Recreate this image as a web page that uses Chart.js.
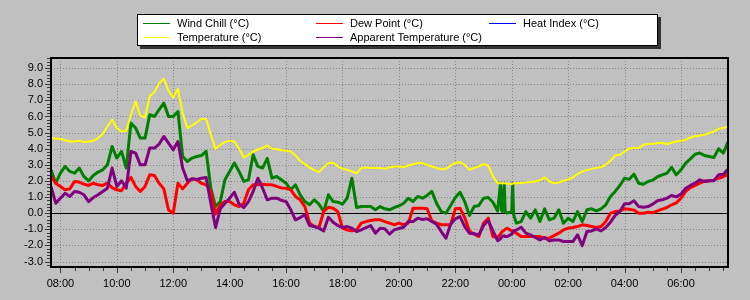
<!DOCTYPE html>
<html><head><meta charset="utf-8">
<script src="https://cdn.jsdelivr.net/npm/chart.js@4.4.1/dist/chart.umd.min.js"></script>
<style>
html,body{margin:0;padding:0;background:#c0c0c0;}
#wrap{position:relative;width:750px;height:300px;background:#c0c0c0;overflow:hidden;}
#legend{position:absolute;left:137px;top:14px;width:519px;height:30px;background:#fff;border:1px solid #000;box-shadow:3px 3px 0 0 #333;font-family:"Liberation Sans",Arial,sans-serif;font-size:11px;color:#000;}
.li{position:absolute;height:14px;white-space:nowrap;}
.li .sw{position:absolute;left:0;top:7px;width:27px;height:1px;}
.li .tx{position:absolute;left:34px;top:0;line-height:14px;}
</style></head><body>
<div id="wrap"><canvas id="c" width="750" height="300"></canvas><div id="legend"></div></div>
<script>
// time of each reading, minutes after 07:40
const minutesAfter0740 = [
0,10,20,30,40,50,60,70,80,90,
100,110,120,130,140,150,160,170,180,190,
200,210,220,230,240,250,260,270,280,290,
300,310,320,330,340,350,360,370,380,390,
400,410,420,430,440,450,460,470,480,490,
500,510,520,530,540,550,560,570,580,590,
600,610,620,630,640,650,660,670,680,690,
700,710,720,730,740,750,760,770,780,790,
800,810,820,830,840,850,860,870,880,890,
900,910,920,930,940,950,956,958,960,964,966,970,
980,982,984,990,
1000,1010,1020,1030,1040,1050,1060,1070,1080,1090,
1100,1110,1120,1130,1140,1150,1160,1170,1180,1190,
1200,1210,1220,1230,1240,1250,1260,1270,1280,1290,
1300,1310,1320,1330,1340,1350,1360,1370,1380,1390,
1400,1410,1420,1430,1440];

const windChill = [
2.69,1.86,2.48,2.90,2.59,2.48,2.80,2.28,2.01,2.34,
2.55,2.69,3.00,4.14,3.42,3.83,2.80,5.59,5.28,4.66,
4.66,6.11,6.00,6.42,6.83,6.00,6.00,6.30,3.52,3.21,
3.42,3.52,3.58,3.83,1.55,0.41,0.72,2.07,2.59,3.11,
2.59,1.97,2.07,3.62,2.90,2.80,3.40,2.17,2.28,2.07,
1.86,1.45,1.76,1.14,0.72,0.52,0.83,0.56,0.10,1.14,
0.72,0.68,0.56,0.93,2.17,0.35,0.41,0.41,0.41,0.21,
0.41,0.27,0.21,0.35,0.45,0.62,0.93,0.72,1.04,0.93,
1.10,1.35,0.62,0.10,0.00,0.48,0.97,1.30,0.72,-0.14,
0.41,0.48,0.93,0.97,0.68,0.14,1.84,0.20,0.10,1.84,0.10,0.00,
0.10,1.84,-0.10,-0.62,
-0.52,0.10,-0.31,0.21,-0.52,0.27,-0.41,-0.31,0.21,-0.62,
-0.31,-0.52,0.10,-0.52,0.21,0.27,0.14,0.27,0.52,1.04,
1.35,1.72,2.17,2.10,2.42,1.86,1.80,1.97,2.05,2.26,
2.38,2.48,2.84,2.38,2.69,3.11,3.37,3.66,3.73,3.58,
3.52,3.46,4.00,3.73,4.41];

const dewPoint = [
2.28,1.86,1.66,1.45,1.51,1.97,1.93,1.80,1.72,1.86,
1.76,1.72,1.86,1.59,1.45,1.39,1.86,2.22,1.66,1.35,
1.66,2.38,2.34,1.86,1.51,0.20,0.00,1.86,1.51,1.86,
2.13,2.07,1.86,1.76,1.35,-0.06,0.52,0.72,0.72,0.52,
0.41,0.62,1.45,1.76,1.76,1.80,1.76,1.76,1.66,1.57,
1.55,1.45,1.04,0.83,0.41,-0.62,-0.83,-0.89,0.10,0.37,
0.31,0.10,-0.93,-1.04,-1.10,-1.04,-0.62,-0.52,-0.46,-0.41,
-0.41,-0.52,-0.62,-0.72,-0.62,-0.72,-0.62,0.31,0.31,0.31,
0.27,-0.48,-0.62,-0.72,-0.72,-0.72,0.27,0.31,-0.27,-1.10,
-1.30,-1.45,-0.62,-0.31,-1.45,-1.51,-1.30,-1.20,-1.14,-1.05,-1.00,-0.93,
-1.10,-1.10,-1.15,-1.24,
-1.45,-1.45,-1.45,-1.45,-1.45,-1.55,-1.55,-1.39,-1.24,-1.04,
-0.93,-0.89,-0.83,-0.72,-0.77,-0.83,-0.89,-0.83,-0.52,0.00,
0.10,0.14,0.27,0.24,0.19,0.00,0.00,0.06,0.02,0.14,
0.25,0.35,0.52,0.64,0.93,1.35,1.59,1.72,1.86,1.99,
1.99,2.05,2.17,2.26,2.42];

const heatIndex = [];

const temperature = [
4.66,4.62,4.62,4.53,4.45,4.45,4.49,4.41,4.45,4.49,
4.66,4.91,5.38,5.80,5.28,5.07,5.11,6.11,6.94,6.05,
5.94,7.25,7.52,8.07,8.34,7.60,7.18,7.72,6.21,5.28,
5.45,5.63,5.86,5.84,4.87,3.98,4.24,4.41,4.49,4.45,
4.00,3.46,3.62,3.83,3.95,4.04,4.20,4.00,3.98,3.90,
3.87,3.83,3.58,3.25,3.04,2.84,2.67,2.55,2.84,3.11,
3.13,2.92,2.75,2.69,2.59,2.48,2.80,2.84,2.80,2.80,
2.80,2.75,2.84,2.90,2.89,2.86,2.96,3.04,3.11,3.11,
3.00,2.90,2.80,2.73,2.75,2.96,3.11,3.17,3.00,2.69,
2.80,2.90,3.04,2.96,2.28,1.86,1.86,1.86,1.86,1.86,1.85,1.84,
1.80,1.84,1.85,1.86,
1.88,1.90,1.93,1.97,2.05,2.22,1.97,1.86,1.90,2.01,
2.09,2.22,2.42,2.59,2.67,2.75,2.80,2.86,3.00,3.25,
3.58,3.62,3.83,4.01,4.04,4.04,4.24,4.29,4.29,4.35,
4.35,4.29,4.37,4.45,4.49,4.55,4.70,4.78,4.82,4.87,
4.97,5.07,5.24,5.28,5.38];

const apparentTemperature = [
1.66,0.62,0.93,1.24,1.04,1.35,1.30,1.14,0.72,0.97,
1.14,1.35,1.55,2.80,1.66,2.01,1.55,3.83,3.73,3.00,
3.00,4.04,4.04,4.29,4.76,4.35,3.93,4.45,2.80,2.01,
2.13,2.09,2.17,2.22,0.62,-0.89,0.27,0.62,0.93,1.30,
0.56,0.35,0.72,1.35,2.17,1.55,0.83,0.93,0.93,0.80,
0.72,0.21,-0.41,-0.27,-0.10,-0.77,-0.83,-0.93,-1.10,-0.25,
-0.56,-0.77,-0.89,-0.83,-0.93,-1.14,-1.04,-0.89,-0.77,-1.24,
-0.93,-0.97,-1.30,-1.04,-0.95,-0.87,-0.52,-0.52,-0.31,-0.39,
-0.35,-0.52,-0.68,-1.14,-1.55,-0.68,-0.35,-0.21,-0.83,-1.24,
-1.28,-1.35,-0.77,-0.46,-1.10,-1.70,-1.60,-1.50,-1.45,-1.40,-1.45,-1.45,
-1.30,-1.20,-1.10,-1.04,
-0.87,-1.24,-1.35,-1.51,-1.66,-1.51,-1.72,-1.66,-1.66,-1.76,
-1.76,-1.76,-1.35,-2.01,-1.14,-1.10,-0.97,-1.10,-0.89,-0.56,
-0.14,0.10,0.58,0.59,0.77,0.41,0.37,0.41,0.56,0.77,
0.83,0.93,1.10,1.01,1.18,1.55,1.72,1.86,2.07,1.97,
2.01,2.01,2.38,2.42,2.73];

const xTickLabels = ['08:00','10:00','12:00','14:00','16:00','18:00','20:00','22:00','00:00','02:00','04:00','06:00'];
const yTickValues = [-3,-2,-1,0,1,2,3,4,5,6,7,8,9];

const FONT = '"Liberation Sans", Arial, sans-serif';

function minutesFromLabel(s){
  const p = s.split(':').map(Number);
  return ((p[0]*60 + p[1]) - (7*60 + 40) + 1440) % 1440;
}

const series = [
  {label:'Wind Chill (°C)', color:'#008000', values:windChill, width:3, order:4},
  {label:'Dew Point (°C)', color:'#ff0000', values:dewPoint, width:3, order:3},
  {label:'Heat Index (°C)', color:'#0000ff', values:heatIndex, width:3, order:2},
  {label:'Temperature (°C)', color:'#ffff00', values:temperature, width:2, order:1},
  {label:'Apparent Temperature (°C)', color:'#800080', values:apparentTemperature, width:3, order:0}
];

const framePlugin = {
  id:'frame',
  beforeDatasetsDraw(chart){
    const {ctx, chartArea:a, scales:{x, y}} = chart;
    ctx.save();
    ctx.lineWidth = 1;
    ctx.strokeStyle = '#858585';
    ctx.setLineDash([1,2]);
    ctx.beginPath();
    y.ticks.forEach(t => {
      if (t.value === 0) return;
      const py = Math.round(y.getPixelForValue(t.value)) + 0.5;
      ctx.moveTo(a.left, py); ctx.lineTo(a.right, py);
    });
    x.ticks.forEach(t => {
      const px = Math.round(x.getPixelForValue(t.value)) + 0.5;
      ctx.moveTo(px, a.top); ctx.lineTo(px, a.bottom);
    });
    ctx.stroke();
    ctx.setLineDash([]);
    ctx.strokeStyle = '#000';
    const pz = Math.round(y.getPixelForValue(0)) + 0.5;
    ctx.beginPath(); ctx.moveTo(a.left, pz); ctx.lineTo(a.right, pz); ctx.stroke();
    ctx.restore();
  },
  afterDatasetsDraw(chart){
    const {ctx, chartArea:a, scales:{x, y}} = chart;
    ctx.save();
    ctx.strokeStyle = '#000';
    ctx.lineWidth = 2;
    ctx.strokeRect(a.left, a.top, a.right - a.left, a.bottom - a.top);
    ctx.lineWidth = 1;
    ctx.strokeStyle = '#3a3a3a';
    ctx.beginPath();
    for (let i = Math.ceil(y.min * 5); i <= Math.floor(y.max * 5); i++) {
      const len = (i % 5 === 0) ? 5 : 3;
      const py = Math.round(y.getPixelForValue(i / 5)) + 0.5;
      ctx.moveTo(a.left - 1, py); ctx.lineTo(a.left - 1 - len, py);
    }
    const first = minutesFromLabel(xTickLabels[0]);
    for (let m = first % 30; m <= x.max; m += 30) {
      const len = ((m - first) % 120 === 0) ? 5 : 3;
      const px = Math.round(x.getPixelForValue(m)) + 0.5;
      ctx.moveTo(px, a.bottom + 1); ctx.lineTo(px, a.bottom + 1 + len);
    }
    ctx.stroke();
    ctx.restore();
  }
};

new Chart(document.getElementById('c'), {
  type:'line',
  data:{
    datasets: series.map(s => ({
      label:s.label,
      data:s.values.map((v, i) => ({x:minutesAfter0740[i], y:v})),
      borderColor:s.color,
      backgroundColor:s.color,
      borderWidth:s.width,
      borderJoinStyle:'round',
      pointRadius:0,
      tension:0,
      fill:false,
      order:s.order
    }))
  },
  options:{
    responsive:false,
    animation:false,
    devicePixelRatio:1,
    events:[],
    layout:{padding:{left:0, right:22, top:58, bottom:0}},
    plugins:{legend:{display:false}, tooltip:{enabled:false}},
    scales:{
      x:{
        type:'linear', min:0, max:1440,
        grid:{display:false, drawTicks:false},
        border:{display:false},
        afterBuildTicks: sc => { sc.ticks = xTickLabels.map(l => ({value:minutesFromLabel(l)})); },
        afterFit: sc => { sc.height = 33; },
        ticks:{
          padding:10, color:'#000', autoSkip:false, maxRotation:0,
          font:{family:FONT, size:11},
          callback: v => { const l = xTickLabels.find(t => minutesFromLabel(t) === v); return l === undefined ? '' : l; }
        }
      },
      y:{
        type:'linear', min:-3.34, max:9.63,
        grid:{display:false, drawTicks:false},
        border:{display:false},
        afterBuildTicks: sc => { sc.ticks = yTickValues.map(v => ({value:v})); },
        afterFit: sc => { sc.width = 51; },
        ticks:{
          padding:8, color:'#000',
          font:{family:FONT, size:11},
          callback: v => Number(v).toFixed(1)
        }
      }
    }
  },
  plugins:[framePlugin]
});

// legend: 3 columns, built from the series
const legendEl = document.getElementById('legend');
series.forEach((s, i) => {
  const col = i % 3, row = Math.floor(i / 3);
  const item = document.createElement('div');
  item.className = 'li';
  item.style.left = (5 + col * 173) + 'px';
  item.style.top = (1 + row * 14.4) + 'px';
  const sw = document.createElement('span');
  sw.className = 'sw';
  sw.style.background = s.color;
  const tx = document.createElement('span');
  tx.className = 'tx';
  tx.textContent = s.label;
  item.appendChild(sw); item.appendChild(tx);
  legendEl.appendChild(item);
});
</script>
</body></html>
